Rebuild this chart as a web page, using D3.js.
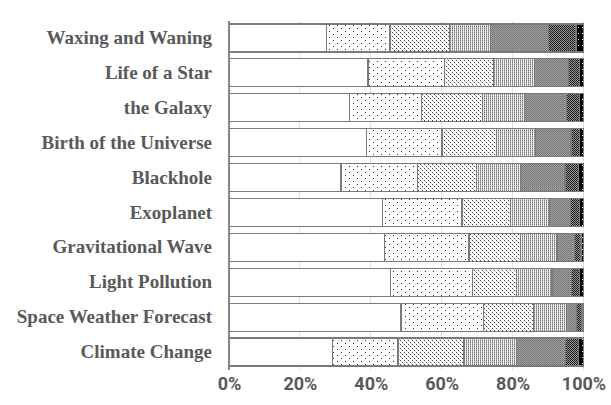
<!DOCTYPE html>
<html>
<head>
<meta charset="utf-8">
<script src="https://cdn.jsdelivr.net/npm/d3@7"></script>
<style>
html,body{margin:0;padding:0;background:#fff;}
svg{display:block;}
</style>
</head>
<body>
<svg id="chart" width="611" height="405" shape-rendering="crispEdges"></svg>
<script>
const categories = ["Waxing and Waning","Life of a Star","the Galaxy","Birth of the Universe","Blackhole","Exoplanet","Gravitational Wave","Light Pollution","Space Weather Forecast","Climate Change"];
const seriesNames = ["s1","s2","s3","s4","s5","s6","s7"];
const s1 = [27.5, 39.2, 33.9, 38.8, 31.6, 43.2, 43.8, 45.5, 48.5, 29.1];
const s2 = [17.9, 21.7, 20.4, 21.3, 21.6, 22.5, 23.9, 23.1, 23.4, 18.6];
const s3 = [16.7, 13.8, 17.2, 15.3, 16.7, 13.7, 14.5, 12.6, 14.1, 18.6];
const s4 = [11.7, 11.5, 11.9, 11.1, 12.3, 11.0, 10.3, 9.9, 9.3, 14.9];
const s5 = [16.3, 9.6, 11.7, 10.0, 12.6, 5.9, 5.0, 5.6, 2.8, 13.7];
const s6 = [7.8, 3.1, 3.8, 2.4, 3.8, 2.6, 1.8, 2.2, 1.5, 3.8];
const s7 = [2.1, 1.1, 1.1, 1.1, 1.4, 1.1, 0.7, 1.1, 0.4, 1.3];
const tickValues = [0, 0.2, 0.4, 0.6, 0.8, 1.0];

const seriesValues = [s1, s2, s3, s4, s5, s6, s7];
const rows = categories.map((c, i) => {
  const o = {cat: c};
  const tot = seriesValues.reduce((a, s) => a + s[i], 0);
  seriesNames.forEach((n, k) => o[n] = seriesValues[k][i] / tot);
  return o;
});

const svg = d3.select("#chart");
const defs = svg.append("defs");

function pat(id, w, h, bg, pixels) {
  const p = defs.append("pattern").attr("id", id).attr("patternUnits", "userSpaceOnUse")
    .attr("width", w).attr("height", h);
  p.append("rect").attr("width", w).attr("height", h).attr("fill", bg);
  pixels.forEach(([x, y, c]) => p.append("rect").attr("x", x).attr("y", y).attr("width", 1).attr("height", 1).attr("fill", c));
}
// sparse dots
pat("p2", 8, 6, "#fff", [[1,1,"#333"],[5,4,"#333"]]);
// denser dots
pat("p3", 4, 4, "#fff", [[0,0,"#444"],[2,2,"#444"],[1,1,"#ccc"],[3,3,"#ccc"]]);
// vertical stripes
pat("p4", 2, 2, "#efefef", [[0,0,"#777"],[0,1,"#aaa"]]);
// medium gray checker
pat("p5", 2, 2, "#a0a0a0", [[0,0,"#707070"],[1,1,"#808080"]]);
// dark checker
pat("p6", 2, 2, "#9a9a9a", [[0,0,"#111"],[1,1,"#222"]]);
// black with sparse white dots
pat("p7", 4, 6, "#000", [[2,3,"#fff"]]);

const fills = ["#ffffff", "url(#p2)", "url(#p3)", "url(#p4)", "url(#p5)", "url(#p6)", "url(#p7)"];

const x = d3.scaleLinear().domain([0, 1]).range([229, 583.5]);
const y = d3.scaleBand().domain(categories).range([20.5, 369.5]).paddingInner(0.2).paddingOuter(0.1);

// gridlines
svg.append("g").selectAll("line").data(tickValues.slice(1)).join("line")
  .attr("x1", d => x(d)).attr("x2", d => x(d))
  .attr("y1", 20.5).attr("y2", 369.5)
  .attr("stroke", "#e0e0e0").attr("stroke-width", 1);

const stack = d3.stack().keys(seriesNames)(rows);

svg.append("g").selectAll("g").data(stack).join("g")
  .attr("fill", (d, i) => fills[i])
  .selectAll("rect").data(d => d).join("rect")
  .attr("x", d => x(d[0]))
  .attr("width", d => x(d[1]) - x(d[0]))
  .attr("y", d => y(d.data.cat))
  .attr("height", y.bandwidth())
  .attr("stroke", "#7a7a7a").attr("stroke-width", 1.2);

// category axis
const yAxis = d3.axisLeft(y).tickSize(0).tickPadding(17);
const ya = svg.append("g").attr("transform", "translate(229,0)").call(yAxis);
ya.select(".domain").attr("stroke", "#868686").attr("stroke-width", 1.3).attr("d", "M0,20.5V369.5");
ya.selectAll("text")
  .attr("font-family", "'Liberation Serif', 'Times New Roman', serif")
  .attr("font-weight", "bold").attr("font-size", 19).attr("fill", "#595959");

// value axis
const xAxis = d3.axisBottom(x).tickValues(tickValues).tickFormat(d3.format(".0%")).tickSize(0).tickPadding(8);
const xa = svg.append("g").attr("transform", "translate(0,369.5)").call(xAxis);
xa.select(".domain").remove();
xa.selectAll("text")
  .attr("font-family", "Roboto, 'Open Sans', sans-serif")
  .attr("font-weight", "bold").attr("font-size", 18).attr("fill", "#595959");
</script>
</body>
</html>
